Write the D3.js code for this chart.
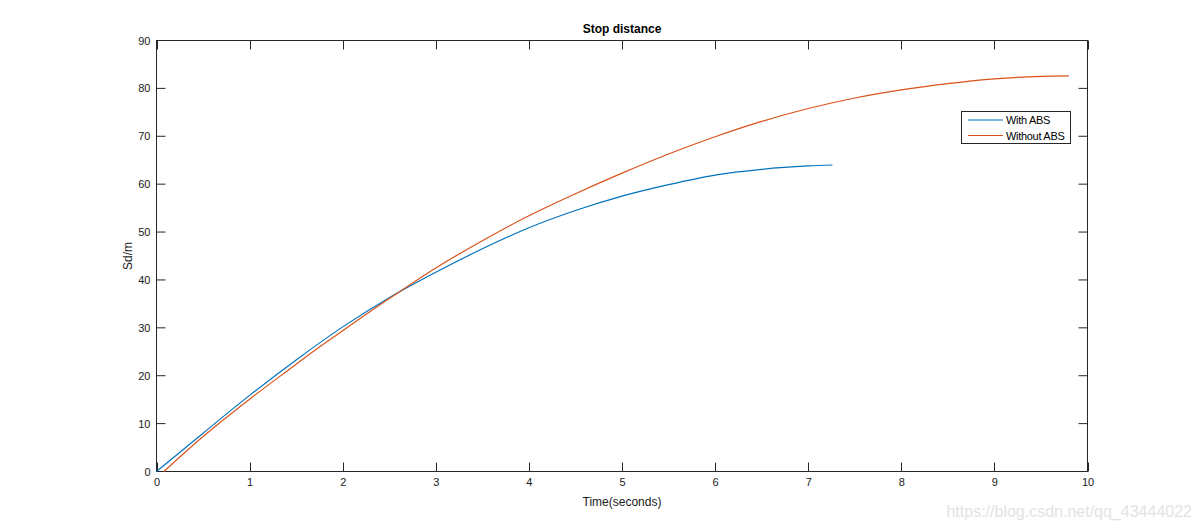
<!DOCTYPE html>
<html><head><meta charset="utf-8">
<script src="https://cdn.jsdelivr.net/npm/d3@7/dist/d3.min.js"></script>
<style>body{margin:0;background:#fff;} svg{display:block;font-family:"Liberation Sans",Arial,sans-serif;}</style>
</head><body>
<svg id="c" width="1202" height="529"></svg>
<script>
const withT   = [0, 0.5, 1, 1.5, 2, 2.5, 3, 3.5, 4, 4.5, 5, 5.5, 6, 6.5, 7, 7.26];
const withS   = [0, 8.0, 15.9, 23.3, 30.2, 36.3, 41.6, 46.5, 50.9, 54.5, 57.5, 59.9, 61.9, 63.1, 63.8, 64.0];
const withoutT = [0.08, 0.5, 1, 1.5, 1.65, 2, 2.5, 3, 3.5, 4, 4.5, 5, 5.5, 6, 6.5, 7, 7.5, 8, 8.5, 9, 9.5, 9.8];
const withoutS = [0, 7.3, 15.1, 22.4, 24.6, 29.4, 36.1, 42.5, 48.2, 53.4, 58.0, 62.3, 66.3, 69.9, 73.1, 75.8, 78.0, 79.7, 81.0, 82.0, 82.5, 82.6];
const xTicks = [0,1,2,3,4,5,6,7,8,9,10];
const yTicks = [0,10,20,30,40,50,60,70,80,90];
const seriesNames = ["With ABS", "Without ABS"];
const colors = ["#0072BD", "#D95319"];

const L = 156.5, R = 1087.5, T = 40.5, B = 471.5;
const svg = d3.select("#c");
const x = d3.scaleLinear().domain([0,10]).range([L,R]);
const y = d3.scaleLinear().domain([0,90]).range([B,T]);
const axCol = "#262626";

const gx = svg.append("g").attr("transform",`translate(0,${B})`)
  .call(d3.axisBottom(x).tickValues(xTicks).tickSize(0).tickPadding(7).tickFormat(d3.format("d")));
const gy = svg.append("g").attr("transform",`translate(${L},0)`)
  .call(d3.axisLeft(y).tickValues(yTicks).tickSize(0).tickPadding(6).tickFormat(d3.format("d")));
[gx,gy].forEach(g=>{g.select(".domain").remove(); g.selectAll("text").attr("fill","#1a1a1a").style("font-size","11px");});

const tk = 9;
const tg = svg.append("g").attr("stroke",axCol).attr("stroke-width",1);
xTicks.forEach(v=>{
  tg.append("line").attr("x1",Math.round(x(v))+0.5).attr("x2",Math.round(x(v))+0.5).attr("y1",B).attr("y2",B-tk);
  tg.append("line").attr("x1",Math.round(x(v))+0.5).attr("x2",Math.round(x(v))+0.5).attr("y1",T).attr("y2",T+tk);
});
yTicks.forEach(v=>{
  tg.append("line").attr("y1",y(v)).attr("y2",y(v)).attr("x1",L).attr("x2",L+tk);
  tg.append("line").attr("y1",y(v)).attr("y2",y(v)).attr("x1",R).attr("x2",R-tk);
});
svg.append("rect").attr("x",L).attr("y",T).attr("width",R-L).attr("height",B-T)
  .attr("fill","none").attr("stroke",axCol).attr("stroke-width",1);

const line = d3.line().x(d=>x(d[0])).y(d=>y(d[1])).curve(d3.curveMonotoneX);
const sets = [d3.zip(withT, withS), d3.zip(withoutT, withoutS)];
sets.forEach((s,i)=>{
  svg.append("path").datum(s).attr("d",line).attr("fill","none")
    .attr("stroke",colors[i]).attr("stroke-width",1.2);
});

svg.append("text").attr("x",(L+R)/2).attr("y",33).attr("text-anchor","middle")
  .style("font-size","12px").style("font-weight","bold").attr("fill","#000").text("Stop distance");
svg.append("text").attr("x",(L+R)/2).attr("y",506).attr("text-anchor","middle")
  .style("font-size","12px").attr("fill","#1a1a1a").text("Time(seconds)");
svg.append("text").attr("transform",`translate(132,${(T+B)/2}) rotate(-90)`).attr("text-anchor","middle")
  .style("font-size","12px").attr("fill","#1a1a1a").text("Sd/m");

const lg = svg.append("g");
lg.append("rect").attr("x",961.5).attr("y",111.5).attr("width",109).attr("height",32)
  .attr("fill","#fff").attr("stroke",axCol).attr("stroke-width",1);
seriesNames.forEach((n,i)=>{
  const yy = 120 + i*15.5;
  lg.append("line").attr("x1",968).attr("x2",1003).attr("y1",yy).attr("y2",yy).attr("stroke",colors[i]).attr("stroke-width",1.2);
  lg.append("text").attr("x",1006).attr("y",yy+4).style("font-size","11px").style("letter-spacing","-0.3px").attr("fill","#000").text(n);
});

svg.append("text").attr("x",1192).attr("y",517).attr("text-anchor","end")
  .style("font-size","16px").attr("fill","#e3e3e3").text("https://blog.csdn.net/qq_43444022");
</script>
</body></html>
